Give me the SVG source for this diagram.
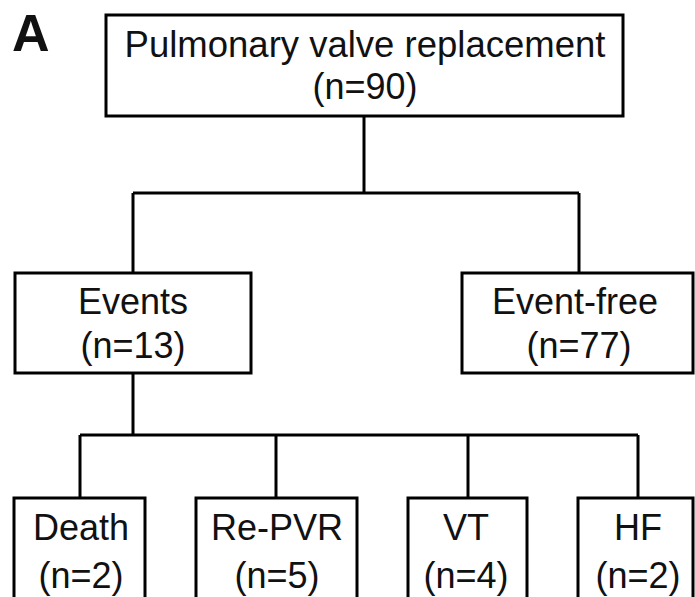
<svg xmlns="http://www.w3.org/2000/svg" width="695" height="597" viewBox="0 0 695 597">
<style>
.box{fill:#fff;stroke:#000;stroke-width:3}
.ln{fill:none;stroke:#000;stroke-width:3}
.t{font-family:"Liberation Sans",Arial,sans-serif;font-size:36px;fill:#111;text-anchor:middle}
.lbl{font-family:"Liberation Sans",Arial,sans-serif;font-size:52px;font-weight:bold;fill:#111}
</style>
<rect width="695" height="597" fill="#fff"/>
<text class="lbl" x="12" y="51">A</text>
<g id="connectors">
<path class="ln" d="M364,116V193M133,193H579M133,193V273M579,193V273"/>
<path class="ln" d="M133,373V435M80,435H638M80,435V498M276,435V498M468,435V498M638,435V498"/>
</g>
<g id="pvr"><rect class="box" x="106" y="15" width="517" height="101"/>
<text class="t" x="365" y="57" style="font-size:36.5px">Pulmonary valve replacement</text><text class="t" x="365" y="99">(n=90)</text></g>
<g id="events"><rect class="box" x="15" y="273" width="236" height="100"/>
<text class="t" x="133" y="314">Events</text><text class="t" x="133" y="358">(n=13)</text></g>
<g id="eventfree"><rect class="box" x="462" y="273" width="231" height="100"/>
<text class="t" x="575" y="314">Event-free</text><text class="t" x="579" y="358">(n=77)</text></g>
<g id="death"><rect class="box" x="14" y="498" width="131" height="110"/>
<text class="t" x="81" y="540">Death</text><text class="t" x="81" y="588">(n=2)</text></g>
<g id="repvr"><rect class="box" x="196" y="498" width="161" height="110"/>
<text class="t" x="277" y="540">Re-PVR</text><text class="t" x="277" y="588">(n=5)</text></g>
<g id="vt"><rect class="box" x="408" y="498" width="119" height="110"/>
<text class="t" x="466" y="540">VT</text><text class="t" x="466" y="588">(n=4)</text></g>
<g id="hf"><rect class="box" x="578" y="498" width="115" height="110"/>
<text class="t" x="638" y="540">HF</text><text class="t" x="638" y="588">(n=2)</text></g>
</svg>
